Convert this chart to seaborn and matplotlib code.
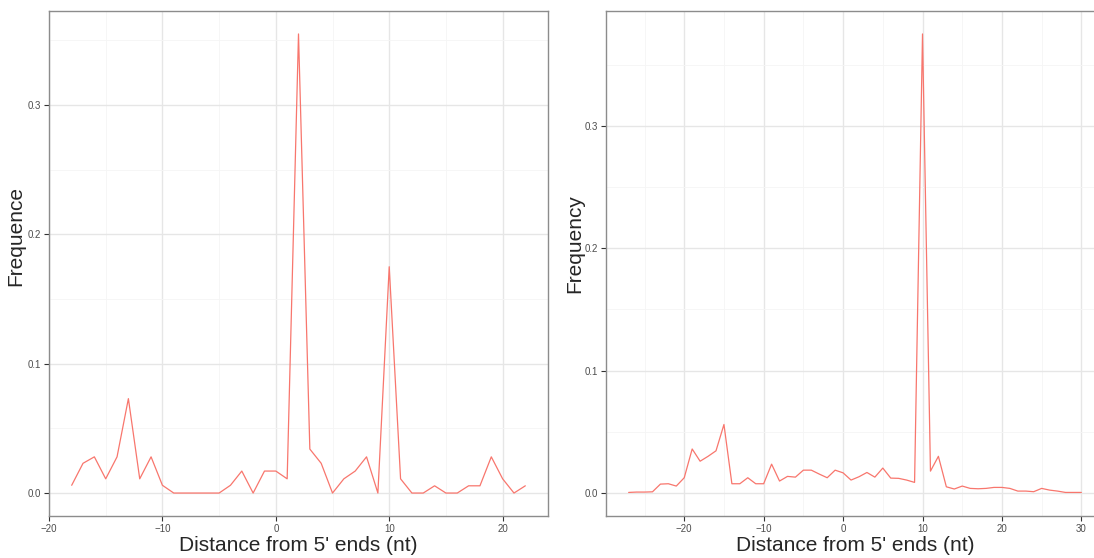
import numpy as np
import pandas as pd
import matplotlib
matplotlib.use('Agg')
import matplotlib.pyplot as plt
from matplotlib.ticker import MultipleLocator
import seaborn as sns

# left panel: distance vs frequence
left_pos = list(range(-18, 23))
left_freq = [0.006, 0.023, 0.028, 0.011, 0.028, 0.073, 0.011, 0.028, 0.006, 0.0,
             0.0, 0.0, 0.0, 0.0, 0.006, 0.017, 0.0, 0.017, 0.017, 0.011,
             0.355, 0.034, 0.023, 0.0, 0.011, 0.017, 0.028, 0.0, 0.175, 0.011,
             0.0, 0.0, 0.0056, 0.0, 0.0, 0.0056, 0.0056, 0.028, 0.011, 0.0, 0.0056]

# right panel: distance vs frequency
right_pos = list(range(-27, 31))
right_freq = [0.0005, 0.0008, 0.0008, 0.001, 0.0073, 0.0076, 0.0057, 0.0125, 0.036, 0.026,
              0.030, 0.0345, 0.056, 0.0076, 0.0076, 0.0125, 0.0076, 0.0076, 0.0236, 0.0098,
              0.0136, 0.013, 0.0187, 0.0187, 0.0155, 0.0125, 0.0187, 0.0165, 0.0106, 0.0133,
              0.0168, 0.013, 0.0204, 0.0122, 0.012, 0.0106, 0.0087, 0.375, 0.0179, 0.030,
              0.0051, 0.0033, 0.0057, 0.0038, 0.0035, 0.0038, 0.0046, 0.0046, 0.0038, 0.0016,
              0.0016, 0.0011, 0.0038, 0.0024, 0.0016, 0.0005, 0.0005, 0.0005]

LINE = '#F8766D'

sns.set_style('white')
plt.rcParams['font.family'] = ['Liberation Sans', 'DejaVu Sans']


def style_axes(ax, xmajor, ymajor):
    ax.xaxis.set_major_locator(MultipleLocator(xmajor))
    ax.xaxis.set_minor_locator(MultipleLocator(xmajor / 2))
    ax.yaxis.set_major_locator(MultipleLocator(ymajor))
    ax.yaxis.set_minor_locator(MultipleLocator(ymajor / 2))
    ax.grid(which='major', color='#E6E6E6', lw=1.0)
    ax.grid(which='minor', color='#F5F5F5', lw=0.6)
    ax.set_axisbelow(True)
    for s in ax.spines.values():
        s.set_visible(True)
        s.set_color('#8C8C8C')
        s.set_linewidth(1.0)
    ax.tick_params(which='major', direction='out', length=3.5, width=0.8,
                   color='#333333', labelsize=7, labelcolor='#4D4D4D', pad=2,
                   bottom=True, left=True)
    ax.tick_params(which='minor', length=0)
    ax.yaxis.set_major_formatter(plt.FuncFormatter(lambda v, p: f'{v:.1f}'))
    ax.xaxis.set_major_formatter(plt.FuncFormatter(lambda v, p: f'{v:.0f}'.replace('-', '\u2212')))


fig = plt.figure(figsize=(10.94, 5.58), dpi=100)
ax1 = fig.add_axes([49 / 1094, 1 - 516 / 558, (548 - 49) / 1094, (516 - 11) / 558])
ax2 = fig.add_axes([606 / 1094, 1 - 516 / 558, (1104 - 606) / 1094, (516 - 11) / 558])

df_l = pd.DataFrame({'dist': left_pos, 'freq': left_freq})
df_r = pd.DataFrame({'dist': right_pos, 'freq': right_freq})

sns.lineplot(data=df_l, x='dist', y='freq', ax=ax1, color=LINE, lw=0.9)
sns.lineplot(data=df_r, x='dist', y='freq', ax=ax2, color=LINE, lw=0.9)

ax1.set_xlim(-20, 24)
ax1.set_ylim(-0.01775, 0.37275)
ax2.set_xlim(-29.85, 32.85)
ax2.set_ylim(-0.01875, 0.39375)

style_axes(ax1, 10, 0.1)
style_axes(ax2, 10, 0.1)

ax1.set_xlabel("Distance from 5' ends (nt)", fontsize=15, labelpad=2)
ax1.set_ylabel('Frequence', fontsize=15)
ax2.set_xlabel("Distance from 5' ends (nt)", fontsize=15, labelpad=2)
ax2.set_ylabel('Frequency', fontsize=15)
ax1.yaxis.set_label_coords(-0.048, 0.555)
ax2.yaxis.set_label_coords(-0.044, 0.54)

fig.savefig('out.png', dpi=100)
